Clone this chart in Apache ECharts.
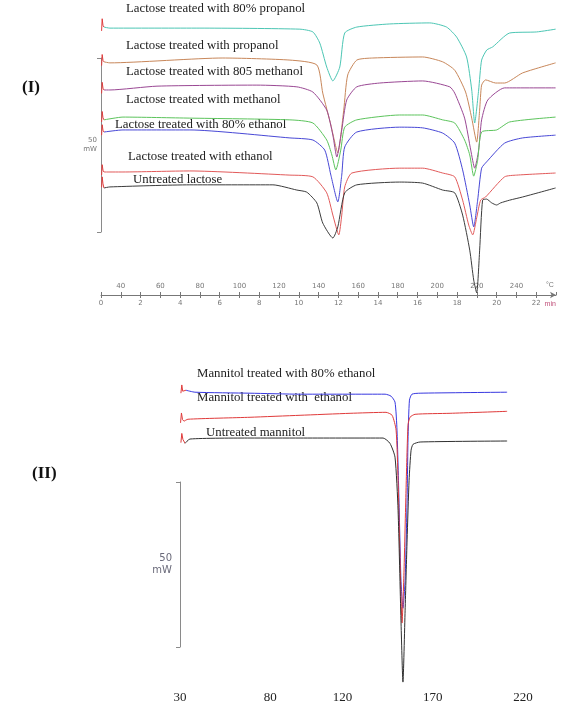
<!DOCTYPE html>
<html>
<head>
<meta charset="utf-8">
<title>DSC thermograms</title>
<script src="https://cdn.jsdelivr.net/npm/echarts@6/dist/echarts.min.js"></script>
<style>
  html, body { margin: 0; padding: 0; background: #ffffff; }
  #chart { width: 577px; height: 727px; }
</style>
</head>
<body>
<div id="chart"></div>
<script>
// (I) lactose: [temperature °C, heat flow mW]; time axis is (T - 30) / 10 min
// the first 4 points of every curve are the red start mark of the instrument
var lacPropanol80 = [[30.3, 76.0], [30.6, 79.5], [31.0, 77.6], [31.5, 77.1], [34.5, 76.8], [80.0, 76.8], [130.5, 76.5], [137.1, 75.7], [140.6, 72.5], [144.1, 65.6], [147.2, 61.6], [150.7, 65.6], [153.2, 75.4], [159.3, 77.1], [176.0, 78.0], [196.2, 78.3], [204.7, 77.1], [209.8, 74.2], [214.8, 68.5], [217.4, 59.0], [218.9, 49.5], [220.9, 59.0], [222.4, 67.6], [225.0, 70.5], [228.0, 71.4], [236.6, 75.4], [250.2, 75.7], [259.8, 76.5]]
var lacPropanol = [[30.3, 66.0], [30.6, 69.2], [31.0, 67.5], [31.5, 67.1], [34.5, 66.8], [91.6, 68.2], [125.5, 67.6], [139.1, 66.2], [142.1, 58.1], [146.2, 48.9], [149.7, 40.9], [152.7, 53.2], [154.7, 63.3], [159.3, 67.6], [167.4, 68.2], [192.6, 68.5], [202.7, 67.1], [208.8, 64.7], [214.3, 58.4], [217.4, 50.9], [219.9, 44.0], [221.4, 53.2], [222.4, 60.4], [224.4, 61.9], [229.5, 61.0], [234.0, 61.0], [243.1, 63.9], [259.8, 66.8]]
var lacMethanol80 = [[30.3, 58.0], [30.6, 61.2], [31.0, 59.5], [31.5, 59.0], [34.5, 59.0], [58.3, 60.1], [108.8, 60.4], [129.0, 59.9], [137.1, 58.4], [144.1, 53.2], [147.2, 46.0], [149.2, 39.7], [151.7, 47.5], [154.2, 56.1], [159.3, 59.9], [170.9, 61.0], [192.6, 61.6], [206.3, 59.9], [208.8, 58.1], [213.8, 50.9], [216.9, 41.7], [218.9, 36.5], [220.9, 41.7], [222.4, 50.4], [225.5, 56.1], [234.0, 59.6], [259.8, 59.6]]
var lacMethanol = [[30.3, 49.8], [30.6, 52.8], [31.0, 51.0], [31.5, 50.4], [41.1, 51.2], [74.9, 50.9], [125.5, 50.4], [137.1, 49.5], [144.1, 44.6], [146.7, 40.3], [148.7, 36.0], [151.2, 41.7], [153.2, 48.3], [159.3, 50.4], [181.0, 51.8], [192.6, 51.8], [202.7, 50.4], [208.8, 49.5], [213.8, 44.6], [216.4, 40.3], [218.4, 34.2], [220.4, 38.8], [222.4, 46.9], [230.0, 47.5], [236.6, 49.8], [259.8, 51.2]]
var lacEthanol80 = [[30.3, 46.0], [30.6, 49.0], [31.0, 47.4], [31.5, 46.9], [41.1, 47.5], [74.9, 47.5], [125.5, 45.2], [137.1, 44.6], [143.1, 41.7], [146.2, 34.5], [149.7, 26.8], [151.7, 34.5], [153.2, 42.6], [159.3, 46.9], [181.0, 48.3], [192.6, 48.1], [202.7, 46.6], [208.8, 43.7], [212.8, 36.0], [216.4, 25.9], [218.4, 19.6], [220.4, 27.3], [222.4, 36.5], [224.9, 38.3], [234.0, 43.7], [243.1, 45.2], [259.8, 46.0]]
var lacEthanol = [[30.3, 34.5], [30.6, 37.5], [31.0, 35.9], [31.5, 35.4], [41.1, 35.4], [74.9, 35.7], [125.5, 34.5], [137.1, 34.0], [144.1, 29.4], [147.2, 23.0], [150.2, 17.3], [151.7, 23.0], [153.2, 31.1], [156.8, 35.1], [181.0, 36.5], [192.6, 36.5], [202.7, 35.1], [208.8, 34.0], [212.8, 27.3], [215.9, 20.1], [217.9, 17.3], [219.9, 22.2], [221.9, 27.3], [224.4, 28.2], [234.0, 34.0], [240.1, 34.5], [259.8, 35.1]]
var lacUntreated = [[30.3, 31.0], [30.6, 34.0], [31.0, 32.0], [31.5, 30.8], [34.5, 31.1], [74.9, 31.7], [116.9, 31.7], [129.0, 30.2], [134.0, 29.6], [139.1, 26.5], [142.1, 20.7], [147.2, 16.4], [149.7, 19.6], [153.2, 29.4], [159.3, 31.7], [181.0, 32.5], [192.6, 32.2], [202.7, 30.2], [208.8, 29.4], [212.8, 23.0], [216.4, 12.9], [218.4, 4.3], [219.9, 0.6], [221.4, 12.9], [222.9, 27.3], [224.9, 27.6], [227.5, 26.5], [230.0, 25.9], [232.0, 26.5], [236.6, 27.3], [243.1, 28.2], [259.8, 30.8]]

// (II) mannitol: [temperature °C, heat flow mW]
var manEthanol80 = [[30.5, 90.0], [31.0, 92.5], [31.5, 90.6], [33.3, 90.9], [38.3, 90.3], [68.8, 90.0], [96.5, 89.7], [143.6, 89.7], [146.9, 89.1], [149.1, 87.3], [150.2, 78.8], [151.3, 57.6], [152.4, 33.3], [153.5, 24.8], [154.7, 33.3], [155.8, 57.6], [156.3, 75.8], [157.1, 87.9], [158.5, 89.7], [163.0, 90.0], [211.2, 90.3]]
var manEthanol = [[30.3, 81.0], [30.8, 84.0], [31.4, 82.0], [32.2, 81.5], [34.4, 82.1], [68.8, 82.7], [96.5, 83.3], [124.2, 83.9], [144.1, 84.2], [147.5, 83.3], [149.7, 78.8], [150.8, 63.6], [151.9, 39.4], [153.0, 20.3], [154.1, 36.4], [155.2, 60.6], [156.3, 80.3], [157.4, 82.7], [160.2, 83.6], [179.6, 83.9], [211.2, 84.5]]
var manUntreated = [[30.5, 75.0], [31.0, 77.8], [31.6, 76.0], [32.8, 74.8], [35.5, 76.1], [68.8, 76.4], [96.5, 76.4], [142.5, 76.4], [146.3, 74.8], [149.1, 70.6], [150.8, 54.5], [152.4, 21.2], [153.5, 2.4], [154.7, 24.2], [155.8, 45.5], [156.9, 63.6], [158.0, 72.7], [159.1, 74.5], [163.0, 75.2], [211.2, 75.5]]

// tick labels
var minLabels = [0, 2, 4, 6, 8, 10, 12, 14, 16, 18, 20, 22]
var tempLabels = [40, 60, 80, 100, 120, 140, 160, 180, 200, 220, 240]
var manTempLabels = [30, 80, 120, 170, 220]

var lacCurves = [
  {name: 'Lactose treated with 80% propanol', data: lacPropanol80, color: '#4cc6b4'},
  {name: 'Lactose treated with propanol', data: lacPropanol, color: '#c8875a'},
  {name: 'Lactose treated with 805 methanol', data: lacMethanol80, color: '#9a4894'},
  {name: 'Lactose treated with methanol', data: lacMethanol, color: '#5cc45c'},
  {name: 'Lactose treated with 80% ethanol', data: lacEthanol80, color: '#4848d6'},
  {name: 'Lactose treated with ethanol', data: lacEthanol, color: '#e25a5a'},
  {name: 'Untreated lactose', data: lacUntreated, color: '#3c3c3c'}
]
var manCurves = [
  {name: 'Mannitol treated with 80% ethanol', data: manEthanol80, color: '#3838e0'},
  {name: 'Mannitol treated with  ethanol', data: manEthanol, color: '#e03a3a'},
  {name: 'Untreated mannitol', data: manUntreated, color: '#303030'}
]

function curveSeries (c, xi, yi) {
  return [{
    name: c.name,
    type: 'line',
    xAxisIndex: xi,
    yAxisIndex: yi,
    data: c.data.slice(3),
    showSymbol: false,
    smooth: 0.2,
    lineStyle: {color: c.color, width: 1},
    itemStyle: {color: c.color},
    z: 3
  }, {
    type: 'line',
    xAxisIndex: xi,
    yAxisIndex: yi,
    data: c.data.slice(0, 4),
    showSymbol: false,
    lineStyle: {color: '#e03c3c', width: 1},
    z: 4
  }]
}

var series = []
lacCurves.forEach(function (c) { series = series.concat(curveSeries(c, 0, 0)) })
manCurves.forEach(function (c) { series = series.concat(curveSeries(c, 2, 1)) })

var serif = '"Liberation Serif", "DejaVu Serif", serif'
var curveLabelPos = [[126, 9], [126, 46], [126, 72], [126, 100], [115, 125], [128, 157], [133, 180]]
var manLabelPos = [[197, 374], [197, 398], [206, 433]]
var graphics = []
lacCurves.forEach(function (c, i) {
  graphics.push({type: 'text', x: curveLabelPos[i][0], y: curveLabelPos[i][1],
    style: {text: c.name, font: '12.8px ' + serif, fill: '#222', verticalAlign: 'middle'}})
})
manCurves.forEach(function (c, i) {
  graphics.push({type: 'text', x: manLabelPos[i][0], y: manLabelPos[i][1],
    style: {text: c.name, font: '12.8px ' + serif, fill: '#222', verticalAlign: 'middle'}})
})
graphics.push({type: 'text', x: 22, y: 88, style: {text: '(I)', font: 'bold 17px ' + serif, fill: '#111', verticalAlign: 'middle'}})
graphics.push({type: 'text', x: 32, y: 474, style: {text: '(II)', font: 'bold 17px ' + serif, fill: '#111', verticalAlign: 'middle'}})

var smallAxisText = {fontSize: 7, color: '#777', fontFamily: '"DejaVu Sans", sans-serif'}

// 50 mW scale bar drawn as a bare y axis in its own small grid
function scaleAxis (gi, gap, size, pad, color) {
  return {
    gridIndex: gi, type: 'value', min: 0, max: 50, interval: 50,
    axisLine: {show: true, lineStyle: {color: '#8a8a8a', width: 1}},
    axisTick: {show: true, length: 4, lineStyle: {color: '#8a8a8a'}},
    axisLabel: {show: false},
    splitLine: {show: false},
    name: '50\nmW',
    nameLocation: 'middle',
    nameRotate: 0,
    nameGap: gap,
    nameTextStyle: {fontSize: size, color: color, fontFamily: '"DejaVu Sans", sans-serif', lineHeight: size + 2, padding: pad}
  }
}

var option = {
  animation: false,
  backgroundColor: '#ffffff',
  grid: [
    {left: 101, top: 17, width: 455, height: 278},
    {left: 180, top: 380, width: 343, height: 310},
    {left: 101, top: 58, width: 1, height: 174},
    {left: 180, top: 482, width: 1, height: 165}
  ],
  xAxis: [{
    gridIndex: 0,
    type: 'value',
    min: 30,
    max: 260,
    interval: 10,
    position: 'bottom',
    axisLine: {show: true, symbol: ['none', 'arrow'], symbolSize: [5, 6], lineStyle: {color: '#777', width: 1}},
    axisTick: {show: true, length: 3, lineStyle: {color: '#777'}},
    splitLine: {show: false},
    axisLabel: Object.assign({
      margin: 5,
      showMinLabel: true,
      showMaxLabel: false,
      formatter: function (v) {
        var m = Math.round((v - 30) / 10)
        return minLabels.indexOf(m) >= 0 ? String(m) : ''
      }
    }, smallAxisText),
    name: 'min',
    nameLocation: 'end',
    nameGap: -6,
    nameTextStyle: {fontSize: 7, color: '#c0507a', align: 'center', verticalAlign: 'top', padding: [6, 0, 0, 0]}
  }, {
    gridIndex: 0,
    type: 'value',
    min: 30,
    max: 260,
    interval: 10,
    position: 'bottom',
    axisLine: {show: false},
    axisTick: {show: true, inside: true, length: 3, lineStyle: {color: '#777'}},
    splitLine: {show: false},
    axisLabel: Object.assign({
      inside: true,
      margin: 5,
      formatter: function (v) {
        return tempLabels.indexOf(v) >= 0 ? String(v) : ''
      }
    }, smallAxisText),
    name: '°C',
    nameLocation: 'end',
    nameGap: -6,
    nameTextStyle: {fontSize: 7, color: '#777', align: 'center', verticalAlign: 'bottom', padding: [0, 0, 6, 0]}
  }, {
    gridIndex: 1,
    type: 'value',
    min: 30,
    max: 220,
    interval: 10,
    axisLine: {show: false},
    axisTick: {show: false},
    splitLine: {show: false},
    axisLabel: {
      margin: 1,
      fontSize: 13,
      color: '#222',
      fontFamily: serif,
      formatter: function (v) {
        return manTempLabels.indexOf(v) >= 0 ? String(v) : ''
      }
    }
  },
  {gridIndex: 2, type: 'value', show: false},
  {gridIndex: 3, type: 'value', show: false}],
  yAxis: [
    {gridIndex: 0, type: 'value', min: 0, max: 80, show: false},
    {gridIndex: 1, type: 'value', min: 0, max: 94, show: false},
    scaleAxis(2, 4, 7, [0, 0, 10, 0], '#777'),
    scaleAxis(3, 8, 10, [0, 0, 11, 0], '#6a6a7a')
  ],
  graphic: graphics,
  series: series
}

var myChart = echarts.init(document.getElementById('chart'))
myChart.setOption(option)
</script>
</body>
</html>
